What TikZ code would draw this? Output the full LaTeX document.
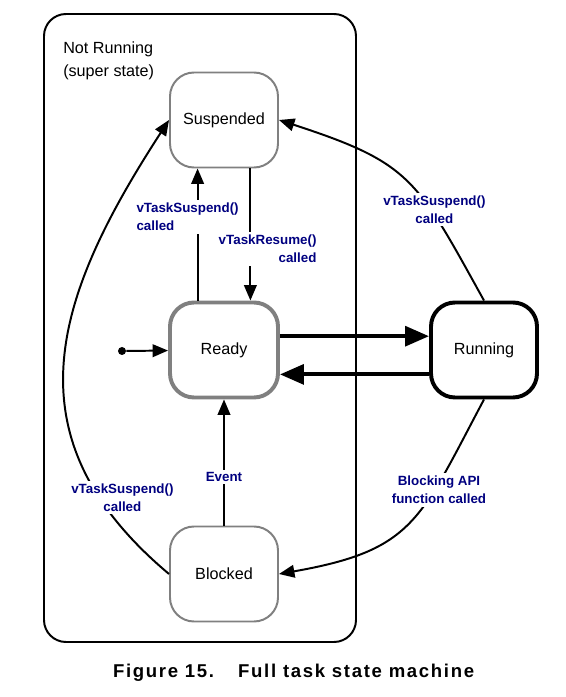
\documentclass[tikz,border=0pt]{standalone}
\usepackage{fontspec}
\setmainfont{Liberation Sans}
\usetikzlibrary{arrows.meta}
\definecolor{lblnavy}{RGB}{0,0,128}
\definecolor{stategray}{RGB}{128,128,128}

\begin{document}
\begin{tikzpicture}[
  state/.style={draw, rounded corners=0.6cm, minimum width=2.7cm, minimum height=2.375cm, fill=white, font=\fontsize{11.5}{13}\selectfont},
  lbl/.style={text=lblnavy, fill=white, inner sep=2pt, font=\bfseries\fontsize{9.5}{12.8}\selectfont},
  trans/.style={line width=1.4pt, -{Triangle[length=11pt,width=9pt]}},
  bigtrans/.style={line width=2.8pt, -{Triangle[length=17pt,width=14pt]}}
]
\useasboundingbox (0,0) rectangle (14.15,17.425);

% super state
\draw [line width=1.4pt, rounded corners=0.55cm] (1.1,1.375) rectangle (8.9,17.075);
\node [anchor=north west, align=left, inner sep=0pt, font=\fontsize{11.5}{16.4}\selectfont] (notrun) at (1.575,16.38) {Not Running\\(super state)};

% states
\node [state, draw=stategray, line width=1.4pt] (susp) at (5.6,14.425) {Suspended};
\node [state, draw=stategray, line width=2.8pt] (ready) at (5.6,8.675) {Ready};
\node [state, line width=2.8pt, minimum width=2.65cm] (run) at (12.1,8.675) {Running};
\node [state, draw=stategray, line width=1.4pt] (block) at (5.6,3.075) {Blocked};
\node [circle, fill, inner sep=0pt, minimum size=0.2cm] (init) at (3.05,8.65) {};

% transitions
\draw [trans] (init) -- (ready);
\draw [bigtrans] ([yshift=0.345cm]ready.east) -- ([yshift=0.345cm]run.west);
\draw [bigtrans] ([yshift=-0.61cm]run.west) -- ([yshift=-0.61cm]ready.east);
\draw [trans] ([xshift=-0.66cm]ready.north) -- ([xshift=-0.66cm]susp.south);
\draw [trans] ([xshift=0.66cm]susp.south) -- ([xshift=0.66cm]ready.north);
\draw [trans] (block) -- (ready);
\draw [trans] (block.west) to [out=140, in=237, looseness=1.2] (susp.west);
\draw [trans] (run.north) to [out=119, in=-18, looseness=1.3] (susp.east);
\draw [trans] (run.south) to [out=-118, in=10, looseness=1.3] (block.east);

% labels
\node [lbl, align=left] (lsusp) at (4.69,12.0) {vTaskSuspend()\\called};
\node [lbl, align=right] (lres) at (6.69,11.2) {vTaskResume()\\called};
\node [lbl] (levent) at (5.6,5.5) {Event};
\node [lbl, align=center] (lrsusp) at (10.86,12.19) {vTaskSuspend()\\called};
\node [lbl, align=center] (lblk) at (10.975,5.175) {Blocking API\\function called};
\node [lbl, align=center] (llsusp) at (3.06,4.99) {vTaskSuspend()\\called};

% caption
\node [anchor=base, inner sep=0pt, font=\bfseries\fontsize{13.2}{15}\selectfont\addfontfeature{LetterSpace=9}] (cap) at (7.34,0.5) {Figure 15.\hspace{1.3em}Full task state machine};
\end{tikzpicture}
\end{document}
